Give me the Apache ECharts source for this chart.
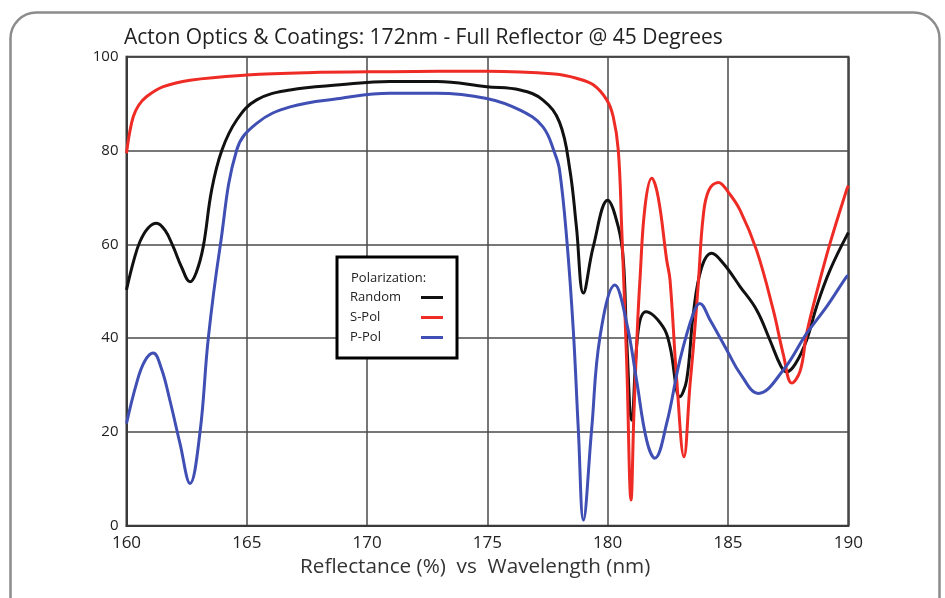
<!DOCTYPE html>
<html>
<head>
<meta charset="utf-8">
<title>172nm Full Reflector @ 45 Degrees</title>
<script src="https://cdn.jsdelivr.net/npm/echarts@6/dist/echarts.min.js"></script>
<style>
  html, body { margin: 0; padding: 0; background: #ffffff; }
  #chart { width: 945px; height: 598px; }
</style>
</head>
<body>
<div id="chart"></div>
<script>
// Reflectance (%) against wavelength (nm), one [nm, %] pair per point
const randomPol = [
  [160, 50.3], [160.3, 56.5], [160.56, 60.6], [160.9, 63.5], [161.25, 64.5],
  [161.6, 63], [161.94, 59.5], [162.3, 55], [162.64, 52], [162.9, 54],
  [163.19, 59.5], [163.54, 71.6], [163.96, 80], [164.58, 86.5], [165.41, 90.8],
  [166.8, 92.9], [168.87, 94], [170.95, 94.7], [172.9, 94.7], [174.97, 93.6],
  [176.36, 92.9], [177.3, 90.8], [178.0, 86], [178.43, 75.8], [178.7, 63.7],
  [178.99, 49.6], [179.4, 59.5], [180.0, 69.4], [180.44, 63.7], [180.65, 56.7],
  [180.79, 39.6], [181.0, 22.5], [181.27, 41.7], [181.59, 45.6], [182.3, 42.4],
  [182.59, 38.2], [183.0, 27.5], [183.28, 31], [183.56, 45.3], [183.9, 55],
  [184.32, 58.1], [184.81, 55.9], [185.5, 51], [186.19, 46], [186.74, 39.6],
  [187.2, 34], [187.44, 32.8], [187.8, 34.5], [188.27, 39.6], [188.68, 46.7],
  [189.24, 54.5], [190, 62.5]
];

const sPol = [
  [160, 79.4], [160.12, 83.5], [160.28, 87.2], [160.5, 89.6], [160.84, 91.5],
  [161.53, 93.6], [162.64, 95], [165, 96.1], [167.5, 96.6], [171, 96.8],
  [175, 96.9], [177.8, 96.3], [178.7, 95.4], [179.4, 94], [179.96, 90.8],
  [180.23, 87.2], [180.44, 80.1], [180.58, 63.7], [180.79, 34.7], [180.97, 5.5],
  [181.09, 24], [181.23, 41.7], [181.34, 52.4], [181.55, 68], [181.83, 74.1],
  [182.1, 70], [182.45, 56.7], [182.59, 52.4], [182.87, 31], [183.17, 14.7],
  [183.42, 30], [183.56, 38], [183.77, 52], [183.97, 66], [184.2, 71.5],
  [184.6, 73.2], [185.0, 71.2], [185.5, 67.3], [186.19, 58.7], [186.88, 46],
  [187.3, 36.5], [187.65, 30.4], [188.0, 33], [188.27, 41], [188.7, 50],
  [189.24, 60.2], [189.93, 71.6], [190, 72.5]
];

const pPol = [
  [160, 21.8], [160.42, 30.4], [160.75, 35], [161.11, 36.8], [161.45, 33.5],
  [161.8, 26.8], [162.22, 17.6], [162.64, 9.0], [163.05, 19.7], [163.4, 40],
  [163.89, 59.5], [164.58, 80.1], [165.41, 85.8], [166.8, 89.3], [168.87, 91.1],
  [170.95, 92.2], [172.9, 92.2], [174.97, 91.1], [176.36, 88.6], [177.3, 85.1],
  [177.8, 79.4], [178.0, 75.8], [178.3, 61], [178.57, 41.7], [178.78, 20.4],
  [178.99, 1.2], [179.33, 20.4], [179.68, 40.3], [180.3, 51.3], [180.79, 43.2],
  [181.2, 31], [181.62, 18.2], [181.96, 14.4], [182.45, 21.8], [183.0, 35.3],
  [183.56, 45.3], [183.83, 47.4], [184.25, 43.9], [185.0, 37], [185.5, 32.5],
  [186.26, 28.2], [187.3, 33.2], [188.27, 41], [189.1, 46.7], [189.93, 53.1],
  [190, 53.3]
];

const seriesNames = ['Random', 'S-Pol', 'P-Pol'];
const seriesColors = ['#111111', '#ee2b24', '#3f4fb4'];
const xTicks = { min: 160, max: 190, step: 5 };
const yTicks = { min: 0, max: 100, step: 20 };

const chartTitle = 'Acton Optics & Coatings: 172nm - Full Reflector @ 45 Degrees';
const axisTitle = 'Reflectance (%)  vs  Wavelength (nm)';
const legendTitle = 'Polarization:';

const FONT = '"Open Sans", "Noto Sans", sans-serif';

const chart = echarts.init(document.getElementById('chart'), null, { renderer: 'canvas' });

function lineSeries(name, data, color) {
  return {
    name: name,
    type: 'line',
    data: data,
    smooth: 0.4,
    showSymbol: false,
    symbol: 'none',
    lineStyle: { color: color, width: 3 },
    itemStyle: { color: color },
    z: 3
  };
}

chart.setOption({
  animation: false,
  backgroundColor: '#ffffff',
  grid: {
    left: 126.5, right: 96.7, top: 56.7, bottom: 72.3,
    show: true, borderColor: '#3a3a3a', borderWidth: 2, backgroundColor: 'transparent'
  },
  xAxis: {
    type: 'value',
    min: xTicks.min, max: xTicks.max, interval: xTicks.step,
    axisLine: { show: true, lineStyle: { color: '#3a3a3a', width: 2 } },
    axisTick: { show: false },
    splitLine: { show: true, lineStyle: { color: '#4a4a4a', width: 1.5 } },
    axisLabel: { color: '#222', fontFamily: FONT, fontSize: 17, margin: 9 }
  },
  yAxis: {
    type: 'value',
    min: yTicks.min, max: yTicks.max, interval: yTicks.step,
    axisLine: { show: true, lineStyle: { color: '#3a3a3a', width: 2 } },
    axisTick: { show: false },
    splitLine: { show: true, lineStyle: { color: '#4a4a4a', width: 1.5 } },
    axisLabel: { color: '#222', fontFamily: FONT, fontSize: 15, margin: 8 }
  },
  legend: {
    data: seriesNames,
    orient: 'vertical',
    left: 337, top: 257,
    align: 'right',
    icon: 'rect',
    itemWidth: 22, itemHeight: 3,
    itemGap: 7,
    padding: [34, 14, 14, 13],
    backgroundColor: '#ffffff',
    borderColor: '#000000', borderWidth: 3, borderRadius: 0,
    selectedMode: false,
    formatter: '{n|{name}}',
    textStyle: {
      fontFamily: FONT, fontSize: 13, color: '#222',
      rich: { n: { width: 66, align: 'left', fontFamily: FONT, fontSize: 13, color: '#222' } }
    }
  },
  graphic: [
    {
      type: 'rect', left: 8, top: 10, z: -10, silent: true,
      shape: { width: 929, height: 640, r: 26 },
      style: { fill: 'none', stroke: '#8c8c8c', lineWidth: 2.5 }
    },
    {
      type: 'text', left: 124, top: 28, z: 10,
      style: { text: chartTitle, font: '21px ' + FONT, fill: '#222' }
    },
    {
      type: 'text', left: 300, top: 557, z: 10,
      style: { text: axisTitle, font: '20.7px ' + FONT, fill: '#333' }
    },
    {
      type: 'text', left: 351, top: 272, z: 20,
      style: { text: legendTitle, font: '13px ' + FONT, fill: '#222' }
    }
  ],
  series: [
    lineSeries(seriesNames[0], randomPol, seriesColors[0]),
    lineSeries(seriesNames[1], sPol, seriesColors[1]),
    lineSeries(seriesNames[2], pPol, seriesColors[2])
  ]
});
</script>
</body>
</html>
